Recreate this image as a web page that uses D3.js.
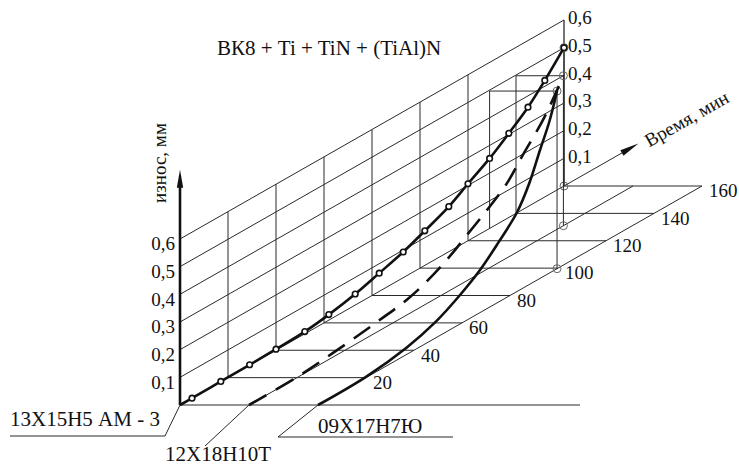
<!DOCTYPE html>
<html>
<head>
<meta charset="utf-8">
<script src="https://cdn.jsdelivr.net/npm/d3@7"></script>
<style>
  body { margin: 0; background: #fff; }
</style>
</head>
<body>
<div id="chart"></div>
<script>
// materials (one plane each), time and wear ticks
var materials = ["13Х15Н5 АМ - 3", "12Х18Н10Т", "09Х17Н7Ю"];
var timeTicks = [20, 40, 60, 80, 100, 120, 140, 160];
var wallTicks = [20, 40, 60, 80, 100, 120];
var wearTicks = [0.1, 0.2, 0.3, 0.4, 0.5, 0.6];
var wearLabels = ["0,1", "0,2", "0,3", "0,4", "0,5", "0,6"];

// 13Х15Н5 АМ-3 (line with circles)
var time1 = [0, 5, 17, 29, 40, 52, 62, 73, 83, 93, 102, 112, 120, 129, 137, 145, 152, 160];
var wear1 = [0, 0, 0.001, 0.002, 0.004, 0.008, 0.02, 0.04, 0.066, 0.093, 0.125, 0.163, 0.206, 0.253, 0.304, 0.359, 0.421, 0.5];
// 12Х18Н10Т (dashed)
var time2 = [0, 20, 37, 53, 67, 80, 93, 99, 107.5, 114, 123, 131];
var wear2 = [0, 0.002, 0.017, 0.036, 0.058, 0.105, 0.178, 0.213, 0.27, 0.338, 0.43, 0.542];
// 09Х17Н7Ю (solid)
var time3 = [0, 20, 37, 49, 59, 67.5, 75, 83, 88, 92.5, 96.5, 99.6];
var wear3 = [0, 0.003, 0.025, 0.058, 0.104, 0.154, 0.214, 0.287, 0.365, 0.464, 0.55, 0.642];
// where the end-point guides meet the back wall
var guideBackTime = [null, 140, 129];

var width = 739, height = 465;
var ox = 180, oy = 405;
var serif = "'Times New Roman', serif";

var svg = d3.select("#chart").append("svg")
    .attr("width", width)
    .attr("height", height)
    .style("font-family", serif);

// oblique projection: material -> right, time -> up-right, wear -> up
var mx = d3.scalePoint().domain(materials).range([0, 138]);
var tx = d3.scaleLinear().domain([0, 160]).range([0, 384]);
var ty = d3.scaleLinear().domain([0, 160]).range([0, 219]);
var wy = d3.scaleLinear().domain([0, 0.6]).range([0, 166]);

function P(m, t, w) {
    return [ox + m + tx(t), oy - ty(t) - wy(w)];
}
var line = d3.line();
var thin = "#2a2a2a";

function seg(a, b, sw, col) {
    svg.append("path")
        .attr("d", line([a, b]))
        .attr("fill", "none")
        .attr("stroke", col || thin)
        .attr("stroke-width", sw || 1);
}
function label(x, y, str, size) {
    return svg.append("text")
        .attr("x", x).attr("y", y)
        .style("font-family", serif)
        .style("font-size", size + "px")
        .attr("fill", "#111")
        .text(str);
}

// back wall: wear lines and time verticals
wearTicks.forEach(function(w) {
    seg(P(0, 0, w), P(0, 160, w));
});
wallTicks.forEach(function(t) {
    seg(P(0, t, 0), P(0, t, 0.6));
});
seg(P(0, 160, 0), P(0, 160, 0.6), 1.3);

// floor: time rows and material lines
seg(P(0, 0, 0), P(400, 0, 0));
timeTicks.forEach(function(t) {
    seg(P(0, t, 0), P(mx(materials[2]), t, 0));
});
materials.forEach(function(m, i) {
    if (i > 0) seg(P(mx(m), 0, 0), P(mx(m), 160, 0));
});

// time axis with arrow
seg(P(0, 0, 0), P(0, 186, 0));
var tip = P(0, 191, 0), u = [2.4, -1.37];
var len = Math.sqrt(u[0] * u[0] + u[1] * u[1]);
u = [u[0] / len, u[1] / len];
var nrm = [-u[1], u[0]];
var base = [tip[0] - 19 * u[0], tip[1] - 19 * u[1]];
svg.append("path")
    .attr("d", line([tip, [base[0] + 3.2 * nrm[0], base[1] + 3.2 * nrm[1]],
        [base[0] - 3.2 * nrm[0], base[1] - 3.2 * nrm[1]]]) + "Z")
    .attr("fill", "#111");

// wear axis with arrow
var wTop = P(0, 0, 0.85);
seg(P(0, 0, 0), [wTop[0], wTop[1] + 14], 2.6, "#111");
svg.append("path")
    .attr("d", line([wTop, [wTop[0] - 3.2, wTop[1] + 18], [wTop[0] + 3.2, wTop[1] + 18]]) + "Z")
    .attr("fill", "#111");

// guides from curve ends
var series = [[time1, wear1], [time2, wear2], [time3, wear3]];
series.forEach(function(s, i) {
    var m = mx(materials[i]);
    var tEnd = s[0][s[0].length - 1], wEnd = s[1][s[1].length - 1];
    var top = P(m, tEnd, wEnd), bot = P(m, tEnd, 0);
    seg(bot, top);
    if (guideBackTime[i] != null) {
        var wallBot = P(0, guideBackTime[i], 0);
        var wallTop = [wallBot[0], top[1]];
        seg(top, wallTop);
        seg(wallTop, wallBot);
    }
    [top, bot].forEach(function(p) {
        svg.append("circle")
            .attr("cx", p[0]).attr("cy", p[1]).attr("r", 4)
            .attr("fill", "none").attr("stroke", "#666").attr("stroke-width", 1);
    });
});

// curves
var curve = d3.line().curve(d3.curveCatmullRom.alpha(0.5));
series.forEach(function(s, i) {
    var m = mx(materials[i]);
    var pts = s[0].map(function(t, k) { return P(m, t, s[1][k]); });
    svg.append("path")
        .attr("d", curve(pts))
        .attr("fill", "none")
        .attr("stroke", "#111")
        .attr("stroke-width", 2.6)
        .attr("stroke-dasharray", i === 1 ? "20,11" : null);
});
svg.selectAll("circle.mk")
    .data(time1.slice(1).map(function(t, k) { return P(0, t, wear1[k + 1]); }))
    .enter().append("circle")
    .attr("class", "mk")
    .attr("cx", function(d) { return d[0]; })
    .attr("cy", function(d) { return d[1]; })
    .attr("r", 2.8)
    .attr("fill", "#fff")
    .attr("stroke", "#111")
    .attr("stroke-width", 1.6);

// wear labels, left and right
wearTicks.forEach(function(w, i) {
    var a = P(0, 0, w), b = P(0, 160, w);
    label(a[0] - 5, a[1] + 7, wearLabels[i], 19)
        .attr("text-anchor", "end").attr("dominant-baseline", "middle");
    label(b[0] + 4, b[1], wearLabels[i], 19)
        .attr("dominant-baseline", "middle");
});

// time labels on the floor edge
timeTicks.forEach(function(t) {
    var p = P(mx(materials[2]), t, 0);
    label(p[0] + 7, p[1] + 7, t, 19).attr("dominant-baseline", "middle");
});

// axis titles
var ta = P(0, 193, 0);
label(0, 0, "Время, мин", 19)
    .attr("transform", "translate(" + (ta[0] + 4) + "," + (ta[1] + 3) + ") rotate(-29.7)")
    .attr("dominant-baseline", "middle");
label(0, 0, "износ, мм", 19)
    .attr("transform", "translate(" + (ox - 14) + ",163) rotate(-90)")
    .attr("text-anchor", "middle");

label(217, 55, "ВК8 + Ti + TiN + (TiAl)N", 21);

// material labels with leaders
var a0 = P(mx(materials[0]), 0, 0);
seg(a0, [a0[0] - 15, a0[1] + 31]);
seg([a0[0] - 15, a0[1] + 31], [10, a0[1] + 31]);
label(10, a0[1] + 21, materials[0], 21);

var a1 = P(mx(materials[1]), 0, 0);
seg(a1, [a1[0] - 44, a1[1] + 41]);
label(165, a1[1] + 56, materials[1], 21);

var a2 = P(mx(materials[2]), 0, 0);
seg(a2, [a2[0] - 40, a2[1] + 32]);
seg([a2[0] - 40, a2[1] + 32], [a2[0] + 135, a2[1] + 32]);
label(a2[0], a2[1] + 28, materials[2], 21);
</script>
</body>
</html>
